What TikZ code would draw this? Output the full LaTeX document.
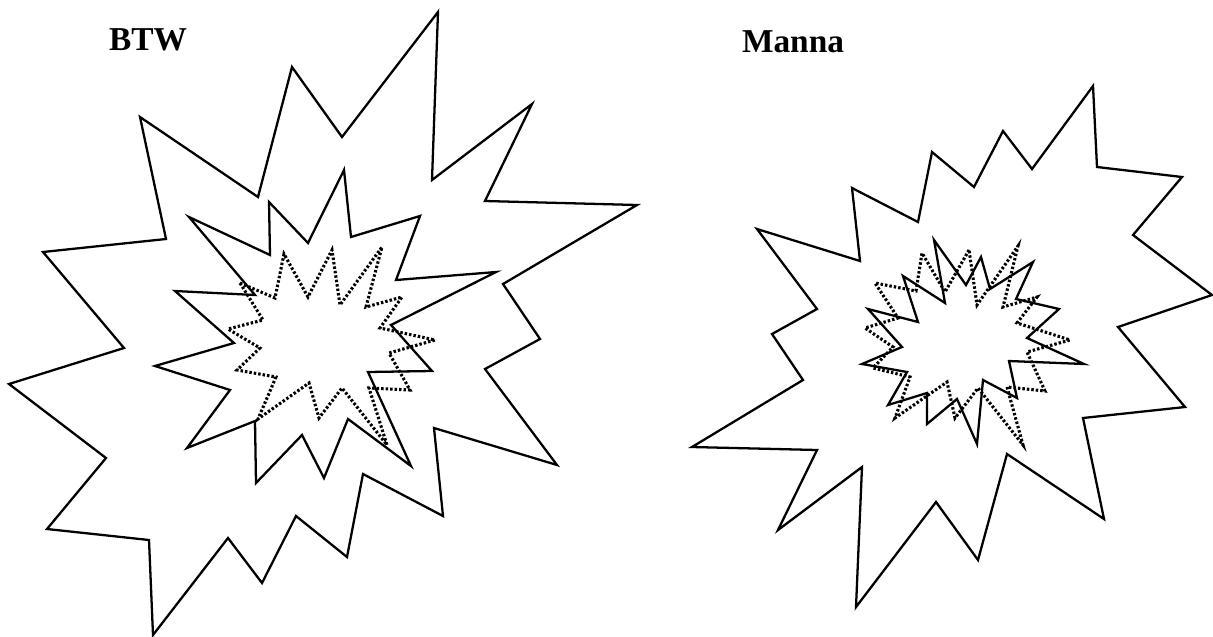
\documentclass[tikz,border=0pt]{standalone}
\usepackage{fontspec}
\setmainfont{Liberation Serif}
\usepackage{tikz}
\tikzset{
  front/.style={black, line width=1.3pt, line join=miter},
  inner/.style={black, line width=1.3pt, line join=miter},
  dotfront/.style={black, line width=1.75pt, dash pattern=on 1.4pt off 1.15pt},
  modelname/.style={font=\fontsize{19}{22}\selectfont\bfseries, inner sep=0pt},
}

\begin{document}
\begin{tikzpicture}[x=0.02cm, y=-0.02cm]
    \useasboundingbox (0,0) rectangle (1213,636);
    % ---------------- left: BTW avalanche fronts --------------------------
    \begin{scope}
      \node[modelname] (btw) at (148,40) {BTW};
      % outer front
      \draw[front] (438,12) -- (432,180) -- (532,104) -- (485,201) -- (637,205)
        -- (503,284) -- (540,339) -- (485,369) -- (557,465) -- (434,428)
        -- (443,516) -- (363,474) -- (347,557) -- (296,516) -- (262,583)
        -- (228,538) -- (153,635) -- (149,540) -- (47,529) -- (106,458)
        -- (9,384) -- (124,348) -- (43,252) -- (166,239) -- (140,117)
        -- (258,197) -- (292,67) -- (342,137) -- cycle;
      % middle front
      \draw[inner] (189,217) -- (270,255) -- (269,202) -- (308,243) -- (344,170)
        -- (351,237) -- (420,216) -- (396,280) -- (496,272) -- (391,325)
        -- (432,371) -- (368,372) -- (411,466) -- (348,419) -- (324,478)
        -- (302,435) -- (256,483) -- (255,421) -- (187,448) -- (230,390)
        -- (155,366) -- (234,343) -- (175,291) -- (255,295) -- cycle;
      % first front (dotted)
      \draw[dotfront] (240,283) -- (275,298) -- (284,254) -- (308,297) -- (332,250)
        -- (340,305) -- (382,247) -- (366,307) -- (402,297) -- (380,328)
        -- (435,340) -- (389,353) -- (410,390) -- (369,388) -- (387,445)
        -- (342,388) -- (319,418) -- (309,383) -- (258,419) -- (276,377)
        -- (237,370) -- (260,348) -- (228,329) -- (263,320) -- cycle;
    \end{scope}
    % ---------------- right: Manna avalanche fronts ------------------------
    \begin{scope}
      \node[modelname] (manna) at (793,42) {Manna};
      % outer front
      \draw[front] (757,229) -- (860,261) -- (852,188) -- (918,222) -- (932,152)
        -- (974,187) -- (1003,131) -- (1032,169) -- (1093,86) -- (1097,167)
        -- (1182,177) -- (1133,235) -- (1212,295) -- (1118,327) -- (1185,407)
        -- (1083,418) -- (1104,519) -- (1007,454) -- (978,560) -- (936,502)
        -- (856,607) -- (862,467) -- (778,530) -- (817,450) -- (692,447)
        -- (803,380) -- (772,334) -- (817,309) -- cycle;
      % inner front
      \draw[inner] (934,240) -- (966,285) -- (981,257) -- (990,289) -- (1033,262)
        -- (1016,299) -- (1059,309) -- (1027,338) -- (1084,364) -- (1009,361)
        -- (1017,398) -- (983,380) -- (977,444) -- (957,399) -- (927,424)
        -- (927,393) -- (888,405) -- (907,372) -- (862,364) -- (902,347)
        -- (868,309) -- (918,322) -- (903,276) -- (945,303) -- cycle;
      % first front (dotted)
      \draw[dotfront] (969,250) -- (945,292) -- (922,253) -- (916,291) -- (875,283)
        -- (898,318) -- (865,328) -- (893,347) -- (873,368) -- (910,377)
        -- (895,418) -- (947,382) -- (955,418) -- (978,388) -- (1023,445)
        -- (1007,387) -- (1045,391) -- (1027,352) -- (1070,340) -- (1017,323)
        -- (1037,297) -- (1003,307) -- (1018,246) -- (977,305) -- cycle;
    \end{scope}
\end{tikzpicture}
\end{document}
